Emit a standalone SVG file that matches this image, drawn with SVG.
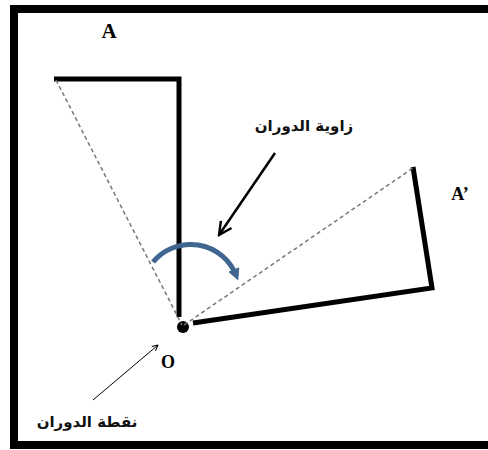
<svg xmlns="http://www.w3.org/2000/svg" width="488" height="450" viewBox="0 0 488 450">
<defs>
<style>
.frame{fill:none;stroke:#000;stroke-width:8}
.shape{fill:none;stroke:#000;stroke-width:5;stroke-linejoin:miter}
.dash{fill:none;stroke:#777;stroke-width:1.5;stroke-dasharray:4 3}
.lbl{font-family:"Liberation Serif",serif;font-weight:bold;fill:#000}
.ar{font-family:"DejaVu Sans","Noto Sans",sans-serif;font-weight:bold;fill:#111}
</style>
<marker id="open" viewBox="0 0 10 10" refX="9" refY="5" markerWidth="7" markerHeight="7" orient="auto" markerUnits="userSpaceOnUse">
<path d="M1,1 L9,5 L1,9" fill="none" stroke="#000" stroke-width="1.5"/>
</marker>
<marker id="open2" viewBox="0 0 10 10" refX="9" refY="5" markerWidth="16" markerHeight="16" orient="auto" markerUnits="userSpaceOnUse">
<path d="M1,1 L9,5 L1,9" fill="none" stroke="#000" stroke-width="1.5"/>
</marker>
<marker id="blue" viewBox="0 0 10 10" refX="5" refY="5" markerWidth="12" markerHeight="12" orient="auto" markerUnits="userSpaceOnUse">
<path d="M0,0 L10,5 L0,10 Z" fill="#3f6590"/>
</marker>
</defs>
<rect width="488" height="450" fill="#fff"/>
<path class="frame" d="M14,449 V9 H492 M10,445 H492"/>
<g id="shapeA">
<path class="shape" d="M54,79 H179 V317"/>
<text class="lbl" x="109" y="38" font-size="21" text-anchor="middle">A</text>
</g>
<g id="shapeA2">
<path class="shape" d="M193,323 L432,288 L413,167"/>
<text class="lbl" x="460" y="200" font-size="18" text-anchor="middle">A’</text>
</g>
<g id="pointO">
<circle cx="183" cy="327" r="6" fill="#000"/>
<text class="lbl" x="168" y="368" font-size="18" text-anchor="middle">O</text>
</g>
<g id="connectors">
<path class="dash" d="M56,80 L182,325"/>
<path class="dash" d="M184,325 L413,168"/>
<path d="M153,262 A49,49 0 0 1 236,275" fill="none" stroke="#3f6590" stroke-width="5" marker-end="url(#blue)"/>
<path d="M275,153 L219,235" fill="none" stroke="#000" stroke-width="2.5" marker-end="url(#open2)"/>
<path d="M93,400 L158,345" fill="none" stroke="#000" stroke-width="1" marker-end="url(#open)"/>
</g>
<g id="label-angle">
<text class="ar" x="304" y="131" font-size="15" text-anchor="middle" direction="rtl">زاوية الدوران</text>
</g>
<g id="label-point">
<text class="ar" x="87" y="427" font-size="15" text-anchor="middle" direction="rtl">نقطة الدوران</text>
</g>
</svg>
